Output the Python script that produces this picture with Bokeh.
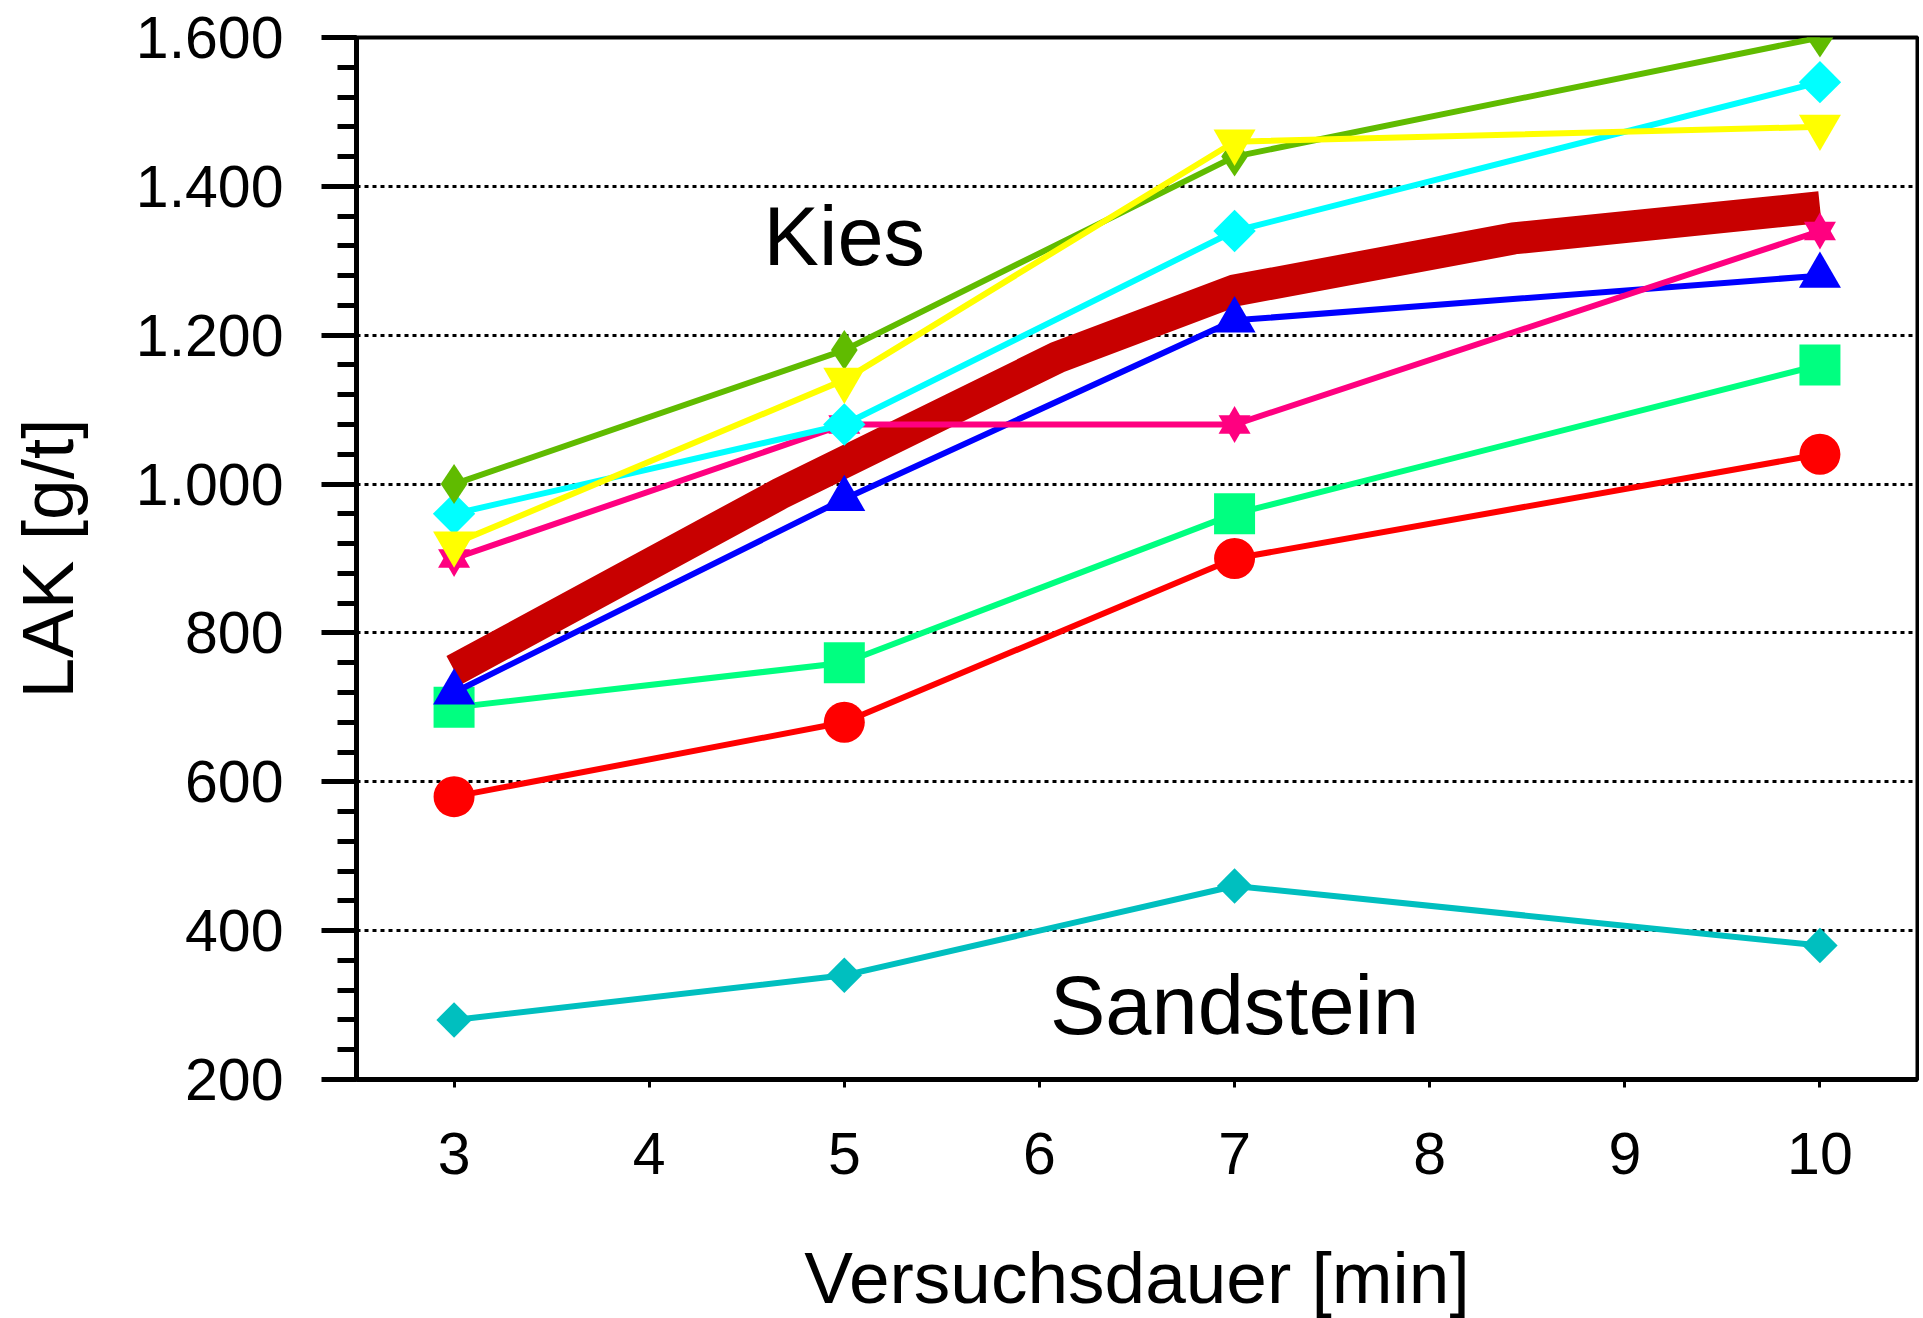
import math
from bokeh.plotting import figure
from bokeh.models import FixedTicker, Label
from bokeh.embed import file_html
from bokeh.resources import INLINE

# ---- data ----
minutes = [3, 5, 7, 10]
kies_lime = [1000, 1180, 1440, 1600]
kies_cyan = [960, 1080, 1340, 1540]
kies_yellow = [920, 1140, 1460, 1480]
kies_pink = [900, 1080, 1080, 1340]
kies_blue = [720, 980, 1220, 1280]
kies_green = [700, 760, 960, 1160]
kies_red = [580, 680, 900, 1040]
sandstein = [280, 340, 460, 380]
mean_x = [3, 4.67, 6.09, 7, 8.43, 10]
mean_y = [750, 987, 1170, 1260, 1330, 1372]

x_ticks = [3, 4, 5, 6, 7, 8, 9, 10]
y_ticks = [200, 400, 600, 800, 1000, 1200, 1400, 1600]
y_tick_labels = ["200", "400", "600", "800", "1.000", "1.200", "1.400", "1.600"]
y_minor = list(range(200, 1601, 40))

FONT = "Liberation Sans"

p = figure(frame_width=1561, frame_height=1042,
           x_range=(2.5, 10.5), y_range=(200, 1600),
           output_backend="svg", toolbar_location=None,
           min_border_left=356, min_border_right=2,
           min_border_top=37, min_border_bottom=239,
           background_fill_color="white", border_fill_color="white")

p.outline_line_color = "black"
p.outline_line_width = 4

# axes
p.xaxis.ticker = FixedTicker(ticks=x_ticks, minor_ticks=[])
p.yaxis.ticker = FixedTicker(ticks=y_ticks, minor_ticks=y_minor)
p.yaxis.major_label_overrides = {t: l for t, l in zip(y_ticks, y_tick_labels)}

for ax in (p.xaxis[0], p.yaxis[0]):
    ax.axis_line_width = 5
    ax.axis_line_color = "black"
    ax.major_tick_in = 0
    ax.minor_tick_in = 0
    ax.major_label_text_font = FONT
    ax.major_label_text_font_size = "59px"
    ax.major_label_text_color = "black"
    ax.axis_label_text_font = FONT
    ax.axis_label_text_font_size = "73px"
    ax.axis_label_text_font_style = "normal"
    ax.axis_label_text_color = "black"

p.xaxis.major_tick_out = 8
p.xaxis.minor_tick_out = 0
p.xaxis.major_tick_line_width = 3
p.xaxis.major_label_standoff = 45
p.xaxis.axis_label = "Versuchsdauer [min]"
p.xaxis.axis_label_standoff = 60

p.yaxis.major_tick_out = 35
p.yaxis.minor_tick_out = 19
p.yaxis.major_tick_line_width = 5
p.yaxis.minor_tick_line_width = 5
p.yaxis.major_label_standoff = 38
p.yaxis.axis_label = "LAK [g/t]"
p.yaxis.axis_label_standoff = 45

# grid
p.xgrid.visible = False
p.ygrid.ticker = FixedTicker(ticks=y_ticks[1:-1])
p.ygrid.grid_line_color = "black"
p.ygrid.grid_line_dash = "4 4"
p.ygrid.grid_line_width = 3

LW = 6

# thick mean line (bottom layer)
p.line(mean_x, mean_y, line_color="#c80000", line_width=32,
       line_join="miter", line_cap="butt")

# Sandstein
p.line(minutes, sandstein, line_color="#00bfbf", line_width=LW)
p.scatter(minutes, sandstein, marker="square", angle=math.pi / 4, size=25,
          fill_color="#00bfbf", line_color=None)

# red circles
p.line(minutes, kies_red, line_color="#ff0000", line_width=LW)
p.scatter(minutes, kies_red, marker="circle", size=41,
          fill_color="#ff0000", line_color=None)

# green squares
p.line(minutes, kies_green, line_color="#00ff80", line_width=LW)
p.scatter(minutes, kies_green, marker="square", size=41,
          fill_color="#00ff80", line_color=None)

# blue triangles
p.line(minutes, kies_blue, line_color="#0000ff", line_width=LW)
p.scatter(minutes, kies_blue, marker="triangle", size=42,
          fill_color="#0000ff", line_color=None)

# pink six-point stars
p.line(minutes, kies_pink, line_color="#ff0080", line_width=LW)
p.scatter(minutes, kies_pink, marker="triangle", size=32,
          fill_color="#ff0080", line_color=None)
p.scatter(minutes, kies_pink, marker="inverted_triangle", size=32,
          fill_color="#ff0080", line_color=None)

# cyan diamonds
p.line(minutes, kies_cyan, line_color="#00ffff", line_width=LW)
p.scatter(minutes, kies_cyan, marker="square", angle=math.pi / 4, size=30,
          fill_color="#00ffff", line_color=None)

# lime diamonds
p.line(minutes, kies_lime, line_color="#60bb00", line_width=LW)
p.scatter(minutes, kies_lime, marker="diamond", size=40,
          fill_color="#60bb00", line_color=None)

# yellow inverted triangles
p.line(minutes, kies_yellow, line_color="#ffff00", line_width=LW)
p.scatter(minutes, kies_yellow, marker="inverted_triangle", size=42,
          fill_color="#ffff00", line_color=None)

# annotations
p.add_layout(Label(x=5.0, y=1333, text="Kies", text_align="center",
                   text_baseline="alphabetic", text_font=FONT,
                   text_font_size="83px", text_color="black"))
p.add_layout(Label(x=7.0, y=299, text="Sandstein", text_align="center",
                   text_baseline="alphabetic", text_font=FONT,
                   text_font_size="83px", text_color="black"))

open("out.html", "w").write(file_html(p, INLINE))
